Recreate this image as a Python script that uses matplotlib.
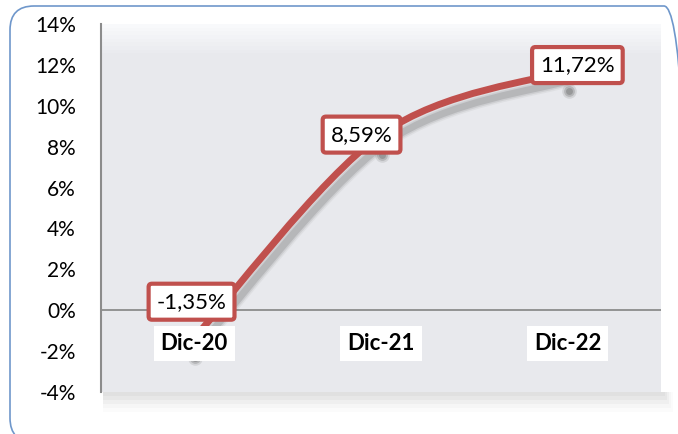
import numpy as np
import matplotlib
matplotlib.use("Agg")
import matplotlib.pyplot as plt
from matplotlib.path import Path
from matplotlib.patches import PathPatch, FancyBboxPatch, Rectangle
from matplotlib.transforms import IdentityTransform, offset_copy

plt.rcParams["font.family"] = ["Lato", "DejaVu Sans"]

# data
categories = ["Dic-20", "Dic-21", "Dic-22"]
values = [-1.35, 8.59, 11.72]
labels = ["-1,35%", "8,59%", "11,72%"]
yticks = [-4, -2, 0, 2, 4, 6, 8, 10, 12, 14]

red = "#C0504D"

fig = plt.figure(figsize=(6.78, 4.34), dpi=100)
ax = fig.add_axes([101 / 678, 42 / 434, 560 / 678, 368 / 434])

# outer rounded frame (pixels)
frame = FancyBboxPatch((10, -8), 678, 436,
                       boxstyle="round,pad=0,rounding_size=24",
                       transform=IdentityTransform(), facecolor="none",
                       edgecolor="#6F97CB", linewidth=1.2)
fig.patches.append(frame)

# soft shadow just below the plot area
for h, a in [(4, 0.07), (8, 0.06), (12, 0.05), (16, 0.04), (20, 0.03)]:
    fig.patches.append(Rectangle((101 + 2, 42 - h), 560 + h / 2, h,
                                 transform=IdentityTransform(),
                                 facecolor="#808080", edgecolor="none",
                                 alpha=a))

ax.set_xlim(0, 3)
ax.set_ylim(-4, 14)

# background gradient (row 0 = top)
grad = np.ones((100, 1, 3))
top = np.array([0.975, 0.978, 0.985])
base = np.array([0.913, 0.917, 0.933])
t = np.clip(np.linspace(0, 1, 100) / 0.08, 0, 1)[:, None]
grad[:, 0, :] = top * (1 - t) + base * t
ax.imshow(grad, extent=[0, 3, -4, 14], origin="upper", aspect="auto", zorder=0)
ax.set_ylim(-4, 14)

xs = np.arange(len(values)) + 0.5
pts = np.column_stack([xs, values])

# smoothed line (Catmull-Rom style Bezier like Excel)
ext = np.vstack([pts[0], pts, pts[-1]])
verts = [tuple(pts[0])]
codes = [Path.MOVETO]
for i in range(len(pts) - 1):
    p0, p1, p2, p3 = ext[i], ext[i + 1], ext[i + 2], ext[i + 3]
    c1 = p1 + (p2 - p0) / 6
    c2 = p2 - (p3 - p1) / 6
    verts += [tuple(c1), tuple(c2), tuple(p2)]
    codes += [Path.CURVE4] * 3
path = Path(verts, codes)

shadow_tr = offset_copy(ax.transData, fig=fig, x=4, y=-9, units="dots")
for lw, a in [(13, 0.06), (10, 0.10), (7, 0.16)]:
    ax.add_patch(PathPatch(path, facecolor="none", edgecolor="#404040",
                           linewidth=lw * 0.72, alpha=a, transform=shadow_tr,
                           capstyle="round", zorder=2))
marker_tr = offset_copy(ax.transData, fig=fig, x=1, y=-20, units="dots")
for s, a in [(110, 0.12), (60, 0.2), (25, 0.25)]:
    ax.scatter(xs, values, s=s, color="#404040", alpha=a, linewidths=0,
               transform=marker_tr, zorder=2)
ax.add_patch(PathPatch(path, facecolor="none", edgecolor=red, linewidth=5,
                       capstyle="round", zorder=3))

# zero line and left axis
ax.axhline(0, color="#8C8C8C", linewidth=1.3, zorder=1)
for s in ["top", "right", "bottom"]:
    ax.spines[s].set_visible(False)
ax.spines["left"].set_color("#8C8C8C")
ax.spines["left"].set_linewidth(1.5)

ax.set_yticks(yticks)
ax.set_yticklabels([f"{v}%" for v in yticks], fontsize=15)
ax.tick_params(axis="y", length=0, pad=18)
ax.set_xticks([])

# category labels at the zero line
for x, c in zip(xs, categories):
    ax.annotate(c, (x, 0), xytext=(0, -24), textcoords="offset points",
                ha="center", va="center", fontsize=16, fontweight="bold",
                bbox=dict(boxstyle="square,pad=0.32", facecolor="white",
                          edgecolor="none"), zorder=4)

# data labels
offsets = [(-2, 26), (-14, 0), (7, 4)]
for x, v, lab, off in zip(xs, values, labels, offsets):
    ax.annotate(lab, (x, v), xytext=off, textcoords="offset points",
                ha="center", va="center", fontsize=16,
                bbox=dict(boxstyle="round,pad=0.36,rounding_size=0.15",
                          facecolor="white", edgecolor=red, linewidth=3),
                zorder=5)

fig.savefig("out.png", dpi=100)
